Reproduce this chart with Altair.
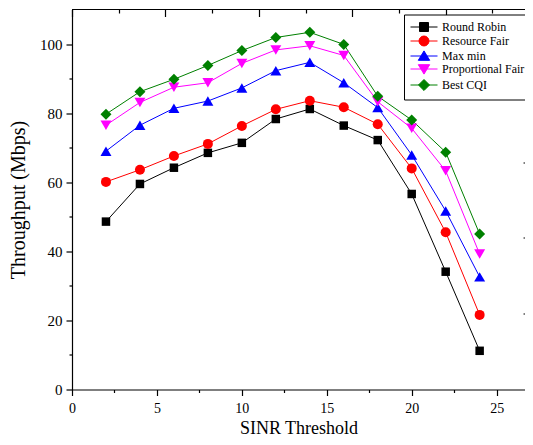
import altair as alt
import pandas as pd

# ---------------- data ----------------
sinr = [2, 4, 6, 8, 10, 12, 14, 16, 18, 20, 22, 24]
series_names = ["Round Robin", "Resource Fair", "Max min", "Proportional Fair", "Best CQI"]
round_robin = [48.6, 59.5, 64.2, 68.5, 71.4, 78.3, 81.2, 76.4, 72.2, 56.6, 34.1, 11.2]
resource_fair = [60.1, 63.6, 67.6, 71.1, 76.3, 81.1, 83.6, 81.7, 76.8, 64.0, 45.5, 21.6]
max_min = [69.0, 76.5, 81.4, 83.5, 87.3, 92.3, 94.7, 88.8, 81.6, 67.9, 51.7, 32.6]
proportional_fair = [76.5, 83.1, 87.5, 88.8, 94.4, 98.3, 99.5, 96.7, 83.3, 75.6, 63.3, 39.2]
best_cqi = [79.7, 86.2, 89.8, 93.8, 98.1, 101.9, 103.4, 99.9, 84.9, 78.0, 68.7, 45.0]

colors = ["#000000", "#FF0000", "#0000FF", "#FF00FF", "#008000"]
shapes = ["square", "circle", "triangle-up", "triangle-down", "diamond"]
sizes = [72, 100, 120, 120, 121]
# legend symbols: a 27 px line with the marker on its middle (unit = 6 px at symbolSize 144)
legend_paths = [
    "M-1,0H3.5M0.5,-0.75H2V0.75H0.5Z",
    "M-1,0H3.5M0.42,0A0.83,0.83 0 1,0 2.08,0A0.83,0.83 0 1,0 0.42,0Z",
    "M-1,0H3.5M1.25,-0.85L2.2,0.72L0.3,0.72Z",
    "M-1,0H3.5M1.25,0.85L2.2,-0.72L0.3,-0.72Z",
    "M-1,0H3.5M1.25,-0.92L2.17,0L1.25,0.92L0.33,0Z",
]

x_ticks = [0, 2.5, 5, 7.5, 10, 12.5, 15, 17.5, 20, 22.5, 25]
y_ticks = [0, 10, 20, 30, 40, 50, 60, 70, 80, 90, 100]
top_major = [0, 5.5, 11, 16.5, 22]
top_minor = [2.75, 8.25, 13.75, 19.25, 24.75]
right_ticks = [22.1, 44.1, 65.8]
frame_top = [110]

values = [round_robin, resource_fair, max_min, proportional_fair, best_cqi]
rows = []
for name, vals in zip(series_names, values):
    for xv, yv in zip(sinr, vals):
        rows.append({"sinr": xv, "tp": yv, "series": name})
df = pd.DataFrame(rows)

FONT = "Liberation Serif"
xs = alt.Scale(domain=[0, 26.67], nice=False, zero=False)
ys = alt.Scale(domain=[0, 110], nice=False, zero=False)

x_axis = alt.Axis(
    values=x_ticks, format="d",
    tickSize={"condition": {"test": "datum.value % 5 === 0", "value": 6}, "value": 3},
    labelExpr="datum.value % 5 === 0 ? datum.label : ''",
    labelFlush=False, labelOverlap=False, grid=False,
    domainColor="black", tickColor="black", domainWidth=1.2, tickWidth=1.2,
    labelFont=FONT, labelFontSize=14, labelColor="black", labelPadding=6,
    title="SINR Threshold", titleFont=FONT, titleFontSize=18,
    titleFontWeight="normal", titleColor="black", titlePadding=4, orient="bottom",
)
y_axis = alt.Axis(
    values=y_ticks, format="d",
    tickSize={"condition": {"test": "datum.value % 20 === 0", "value": 6}, "value": 3},
    labelExpr="datum.value % 20 === 0 ? datum.label : ''",
    labelOverlap=False, grid=False,
    domainColor="black", tickColor="black", domainWidth=1.2, tickWidth=1.2,
    labelFont=FONT, labelFontSize=15, labelColor="black", labelPadding=4,
    title="Throughput (Mbps)", titleFont=FONT, titleFontSize=20,
    titleFontWeight="normal", titleColor="black", titlePadding=11, orient="left",
)

base = alt.Chart(df)

line_layers = []
point_layers = []
for i, (name, col, shp, sz) in enumerate(zip(series_names, colors, shapes, sizes)):
    sub = base.transform_filter(alt.datum.series == name)
    line_layers.append(
        sub.mark_line(strokeWidth=1, color=col).encode(
            x=alt.X("sinr:Q", scale=xs, axis=x_axis if i == 0 else None),
            y=alt.Y("tp:Q", scale=ys, axis=y_axis if i == 0 else None),
        )
    )
    point_layers.append(
        sub.mark_point(shape=shp, size=sz, filled=True, opacity=1, strokeWidth=0, color=col).encode(
            x=alt.X("sinr:Q", scale=xs, axis=None),
            y=alt.Y("tp:Q", scale=ys, axis=None),
        )
    )

leg = alt.Legend(
    title=None, orient="none", legendX=332, legendY=5,
    symbolSize=144, symbolStrokeWidth=1, symbolOpacity=1,
    labelFont=FONT, labelFontSize=12, labelColor="black", labelOffset=19,
    labelLimit=300, padding=6, rowPadding=0,
    strokeColor="black", fillColor="white",
)
legend_layer = base.transform_filter("false").mark_point(filled=True, opacity=1).encode(
    shape=alt.Shape("series:N", scale=alt.Scale(domain=series_names, range=legend_paths), legend=leg),
    fill=alt.Fill("series:N", scale=alt.Scale(domain=series_names, range=colors), legend=leg),
    stroke=alt.Stroke("series:N", scale=alt.Scale(domain=series_names, range=colors), legend=leg),
)

top_major_layer = base.transform_filter("false").mark_point().encode(
    x=alt.X("sinr:Q", scale=xs, axis=alt.Axis(
        orient="top", values=top_major, tickSize=7, offset=-7, labels=False,
        domain=False, title=None, grid=False, tickColor="black", tickWidth=1.2)),
    y=alt.Y("tp:Q", scale=ys, axis=alt.Axis(
        orient="right", values=right_ticks, tickSize=2, offset=-2, labels=False,
        domain=False, title=None, grid=False, tickColor="black", tickWidth=1)),
)
top_minor_layer = base.transform_filter("false").mark_point().encode(
    x=alt.X("sinr:Q", scale=xs, axis=alt.Axis(
        orient="top", values=top_minor, tickSize=3.5, offset=-3.5, labels=False,
        domain=False, title=None, grid=False, tickColor="black", tickWidth=1.2)),
)

top_line = alt.Chart(pd.DataFrame({"v": frame_top})).mark_rule(color="black", strokeWidth=1.2).encode(
    y=alt.Y("v:Q", scale=ys, axis=None),
)

chart = (
    alt.layer(*line_layers, *point_layers, legend_layer, top_major_layer, top_minor_layer, top_line)
    .resolve_axis(x="independent", y="independent")
    .properties(
        width=453, height=380,
        autosize=alt.AutoSizeParams(type="none"),
        padding={"left": 64, "top": 1.5, "right": 0, "bottom": 47.5},
        background="white",
    )
    .configure(font=FONT)
    .configure_axis(labelFont=FONT, titleFont=FONT)
    .configure_legend(labelFont=FONT, titleFont=FONT)
    .configure_view(stroke=None)
)

chart.save("out.html", embed_options={"renderer": "svg", "actions": False})
